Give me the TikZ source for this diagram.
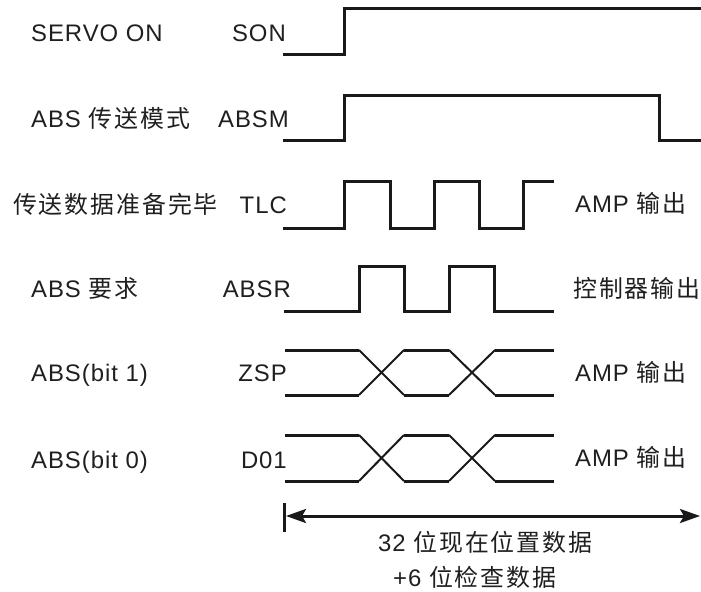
\documentclass[tikz,border=0pt]{standalone}
\usepackage{fontspec}
\setmainfont{Liberation Sans}[LetterSpace=4]
\newfontfamily\cjk{Noto Sans CJK SC}[LetterSpace=8]
\usetikzlibrary{arrows.meta}
\begin{document}
\begin{tikzpicture}[x=1bp,y=-1bp,
  lbl/.style={inner sep=0pt,anchor=base west,text=black!88,font=\fontsize{24}{28}\selectfont},
  sname/.style={inner sep=0pt,anchor=base east,text=black!88,font=\fontsize{24}{28}\selectfont},
  sig/.style={line width=3bp,line join=miter,line cap=butt,black!90},
  crs/.style={line width=2bp,black!90},
  dim/.style={line width=3bp,black!90,{Stealth[length=20bp,width=14bp,inset=4bp]}-{Stealth[length=20bp,width=14bp,inset=4bp]}}]
\useasboundingbox (0,0) rectangle (701,592);
% left labels
\node[lbl] (l1) at (31,42) {SERVO ON};
\node[lbl] (l2) at (31,128) {ABS {\cjk 传送模式}};
\node[lbl] (l3) at (13,213) {{\cjk 传送数据准备完毕}};
\node[lbl] (l4) at (31,297) {ABS {\cjk 要求}};
\node[lbl] (l5) at (31,381) {ABS(bit 1)};
\node[lbl] (l6) at (31,468) {ABS(bit 0)};
% signal names
\node[sname] (n1) at (286,42) {SON};
\node[sname] (n2) at (289,128) {ABSM};
\node[sname] (n3) at (287,213) {TLC};
\node[sname] (n4) at (291,297) {ABSR};
\node[sname] (n5) at (287,381) {ZSP};
\node[sname] (n6) at (287,468) {D01};
% right labels
\node[lbl] (r3) at (575,212) {AMP {\cjk 输出}};
\node[lbl] (r4) at (573,297) {{\cjk 控制器输出}};
\node[lbl] (r5) at (575,381) {AMP {\cjk 输出}};
\node[lbl] (r6) at (575,466) {AMP {\cjk 输出}};
% waveforms
\draw[sig] (283,55) -- (344,55) -- (344,8.5) -- (701,8.5);
\draw[sig] (283,141) -- (344,141) -- (344,96) -- (659,96) -- (659,141) -- (701,141);
\draw[sig] (283,228) -- (344,228) -- (344,182) -- (390,182) -- (390,228) -- (434,228)
  -- (434,182) -- (479,182) -- (479,228) -- (523,228) -- (523,182) -- (554,182);
\draw[sig] (284,311) -- (359,311) -- (359,266) -- (404,266) -- (404,311) -- (449,311)
  -- (449,266) -- (494,266) -- (494,311) -- (554,311);
\foreach \t/\b in {350/395,435/481}{
  \draw[sig] (285,\t) -- (359,\t) (404,\t) -- (449,\t) (495,\t) -- (554,\t);
  \draw[sig] (285,\b) -- (359,\b) (404,\b) -- (449,\b) (495,\b) -- (554,\b);
  \draw[crs] (359,\t) -- (404,\b) (359,\b) -- (404,\t);
  \draw[crs] (449,\t) -- (495,\b) (449,\b) -- (495,\t);
}
% dimension arrow
\coordinate (tickT) at (284.5,503);
\coordinate (tickB) at (284.5,532);
\coordinate (arrL) at (286,516);
\coordinate (arrR) at (700,516);
\draw[line width=3bp,black!90] (tickT) -- (tickB);
\draw[dim] (arrL) -- (arrR);
\node[lbl] (b1) at (378,551) {32 {\cjk 位现在位置数据}};
\node[lbl] (b2) at (393,586) {+6 {\cjk 位检查数据}};
\end{tikzpicture}
\end{document}
